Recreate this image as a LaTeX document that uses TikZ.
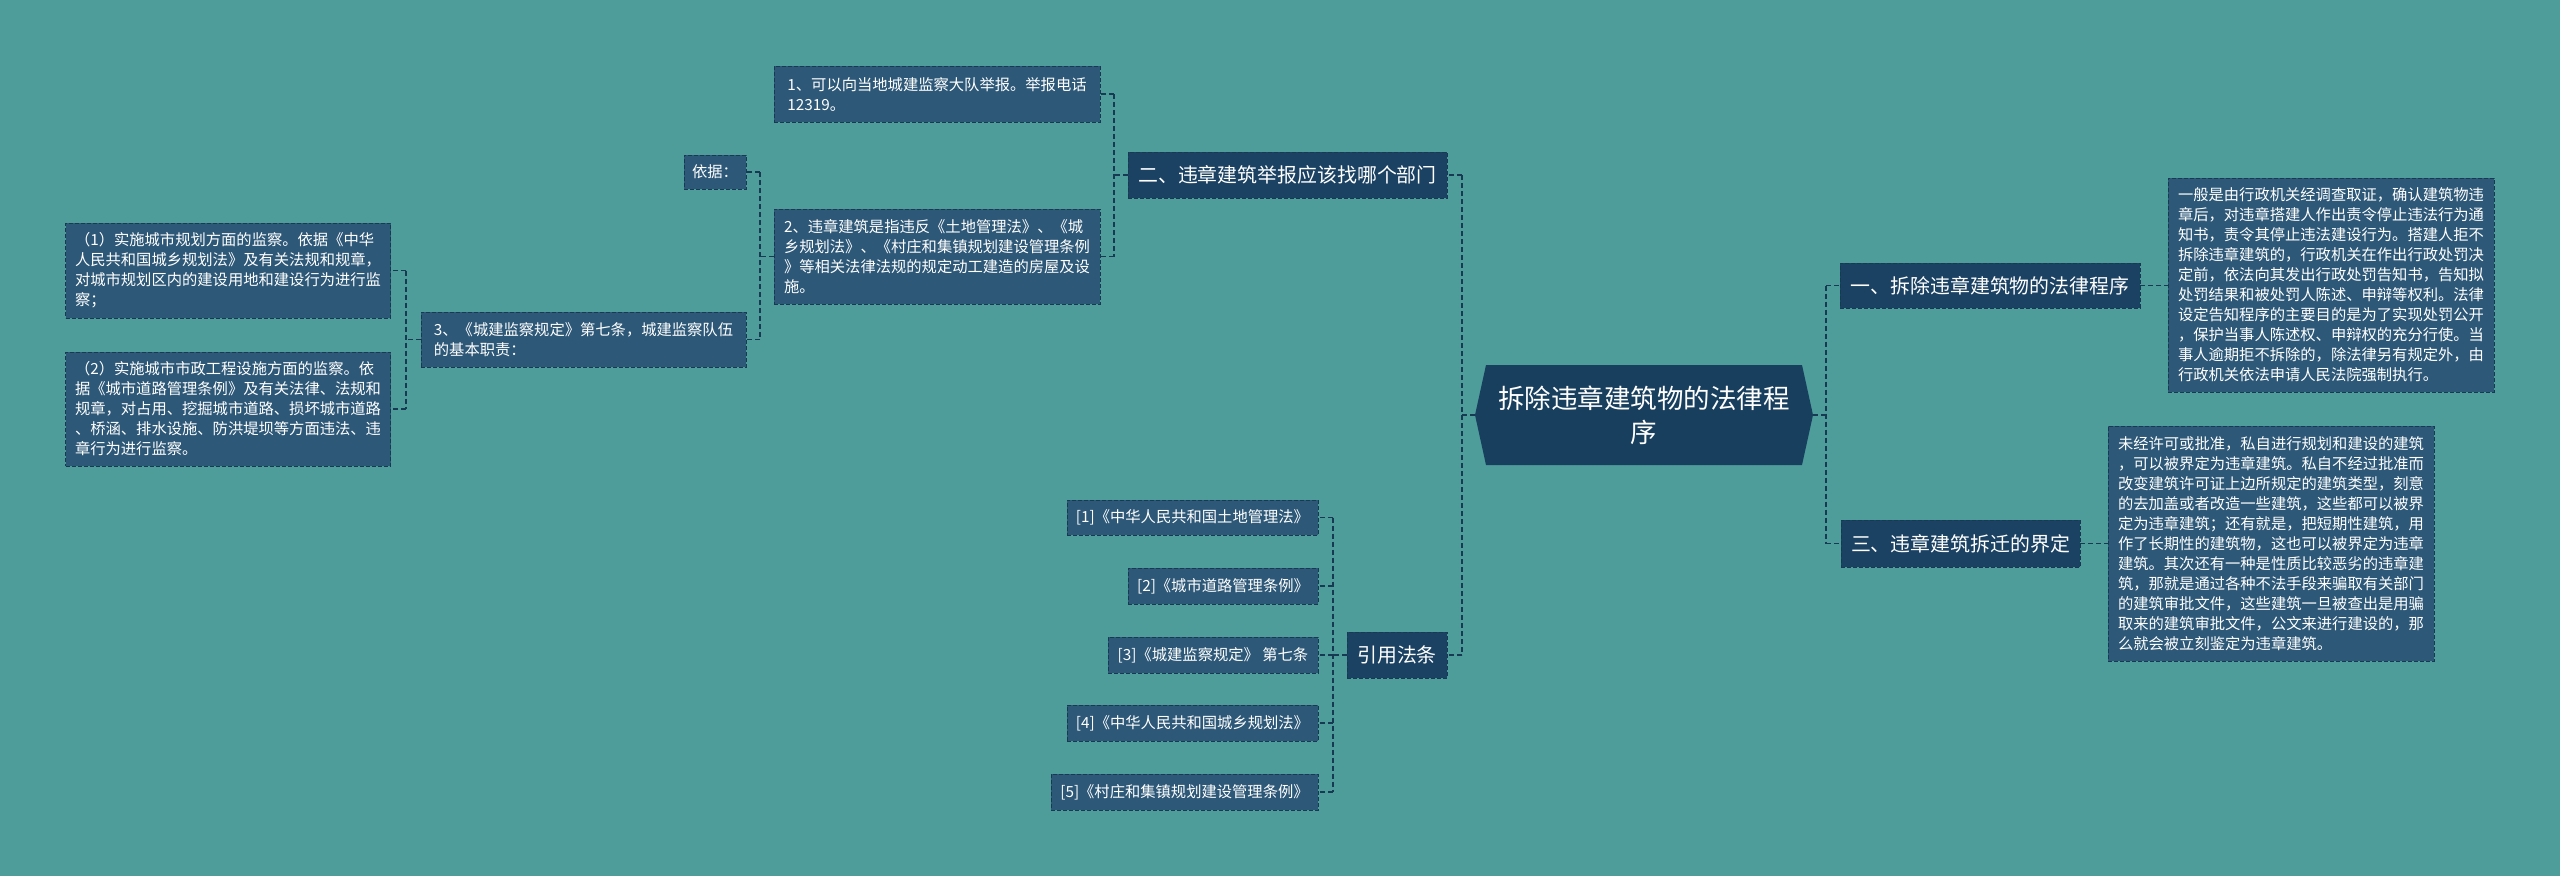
\documentclass[tikz,border=0pt]{standalone}
\usepackage{fontspec}
\newfontfamily\cjk{Noto Sans CJK SC}
\usetikzlibrary{calc}
\definecolor{bgteal}{HTML}{4E9D9B}
\definecolor{leaffill}{HTML}{2D5878}
\definecolor{branchfill}{HTML}{1B4263}
\definecolor{rootfill}{HTML}{183F5E}
\definecolor{edgec}{HTML}{173A52}

\begin{document}
\begin{tikzpicture}[x=1pt, y=-1pt,
		leaf/.style={fill=leaffill, draw=edgec, dash pattern=on 4pt off 2pt, line width=0.9pt, text=white, inner sep=0pt, align=left, font=\cjk\fontsize{15.3}{20}\selectfont},
		branch/.style={fill=branchfill, draw=edgec, dash pattern=on 4pt off 2pt, line width=0.9pt, text=white, inner sep=0pt, font=\cjk\fontsize{19.9}{24}\selectfont},
		link/.style={draw=edgec, line width=1.5pt, dash pattern=on 5pt off 3pt}]
		\fill[bgteal] (0,0) rectangle (2560,876);

		\fill[rootfill] (1475,415) -- (1486,365) -- (1802,365) -- (1813,415) -- (1802,465) -- (1486,465) -- cycle;
		\node[text=white, align=center, minimum width=338pt, minimum height=100pt, inner sep=0pt, font=\cjk\fontsize{26.5}{34}\selectfont] (root) at (1644,415) {拆除违章建筑物的法律程\\序};

		\node[branch, minimum width=319pt, minimum height=46pt] (n2) at (1287.5,175) {二、违章建筑举报应该找哪个部门};
		\node[leaf, minimum width=326pt, minimum height=56pt] (n2a) at (937,94) {1、可以向当地城建监察大队举报。举报电话\\12319。};
		\node[leaf, minimum width=326pt, minimum height=95pt] (n2b) at (937,256.5) {2、违章建筑是指违反《土地管理法》、《城\\乡规划法》、《村庄和集镇规划建设管理条例\\》等相关法律法规的规定动工建造的房屋及设\\施。};
		\node[leaf, minimum width=62pt, minimum height=34pt] (yj) at (715,172) {依据：};
		\node[leaf, minimum width=325pt, minimum height=55pt] (n3) at (583.5,339.5) {3、《城建监察规定》第七条，城建监察队伍\\的基本职责：};
		\node[leaf, minimum width=325pt, minimum height=95pt] (d1) at (228,270.5) {（1）实施城市规划方面的监察。依据《中华\\人民共和国城乡规划法》及有关法规和规章，\\对城市规划区内的建设用地和建设行为进行监\\察；};
		\node[leaf, minimum width=325pt, minimum height=114pt] (d2) at (228,409) {（2）实施城市市政工程设施方面的监察。依\\据《城市道路管理条例》及有关法律、法规和\\规章，对占用、挖掘城市道路、损坏城市道路\\、桥涵、排水设施、防洪堤坝等方面违法、违\\章行为进行监察。};

		\node[branch, minimum width=100pt, minimum height=46pt] (cite) at (1397,655) {引用法条};
		\node[leaf, minimum width=251pt, minimum height=35pt] (c1) at (1192.5,517.5) {[1]《中华人民共和国土地管理法》};
		\node[leaf, minimum width=190pt, minimum height=36pt] (c2) at (1223,586) {[2]《城市道路管理条例》};
		\node[leaf, minimum width=210pt, minimum height=36pt] (c3) at (1213,655) {[3]《城建监察规定》 第七条};
		\node[leaf, minimum width=251pt, minimum height=36pt] (c4) at (1192.5,723) {[4]《中华人民共和国城乡规划法》};
		\node[leaf, minimum width=267pt, minimum height=36pt] (c5) at (1184.5,792) {[5]《村庄和集镇规划建设管理条例》};

		\node[branch, minimum width=300pt, minimum height=45pt] (n1) at (1990,285.5) {一、拆除违章建筑物的法律程序};
		\node[leaf, minimum width=326pt, minimum height=214pt] (t1) at (2331,285) {一般是由行政机关经调查取证，确认建筑物违\\章后，对违章搭建人作出责令停止违法行为通\\知书，责令其停止违法建设行为。搭建人拒不\\拆除违章建筑的，行政机关在作出行政处罚决\\定前，依法向其发出行政处罚告知书，告知拟\\处罚结果和被处罚人陈述、申辩等权利。法律\\设定告知程序的主要目的是为了实现处罚公开\\，保护当事人陈述权、申辩权的充分行使。当\\事人逾期拒不拆除的，除法律另有规定外，由\\行政机关依法申请人民法院强制执行。};
		\node[branch, minimum width=239pt, minimum height=47pt] (n3r) at (1960.5,543.5) {三、违章建筑拆迁的界定};
		\node[leaf, minimum width=326pt, minimum height=235pt] (t3) at (2271,543.5) {未经许可或批准，私自进行规划和建设的建筑\\，可以被界定为违章建筑。私自不经过批准而\\改变建筑许可证上边所规定的建筑类型，刻意\\的去加盖或者改造一些建筑，这些都可以被界\\定为违章建筑；还有就是，把短期性建筑，用\\作了长期性的建筑物，这也可以被界定为违章\\建筑。其次还有一种是性质比较恶劣的违章建\\筑，那就是通过各种不法手段来骗取有关部门\\的建筑审批文件，这些建筑一旦被查出是用骗\\取来的建筑审批文件，公文来进行建设的，那\\么就会被立刻鉴定为违章建筑。};

		\coordinate (sl) at (1462,415);
		\draw[link] (root.west) -- (sl);
		\draw[link] (sl |- n2.east) -- (sl |- cite.east);
		\foreach \c in {n2,cite} \draw[link] (sl |- \c.east) -- (\c.east);

		\coordinate (sr) at (1826,415);
		\draw[link] (root.east) -- (sr);
		\draw[link] (sr |- n1.west) -- (sr |- n3r.west);
		\foreach \c in {n1,n3r} \draw[link] (sr |- \c.west) -- (\c.west);
		\draw[link] (n1.east) -- (n1.east -| t1.west);
		\draw[link] (n3r.east) -- (t3.west);

		\coordinate (s2) at (1114,175);
		\draw[link] (n2.west) -- (s2);
		\draw[link] (s2 |- n2a.east) -- (s2 |- n2b.east);
		\foreach \c in {n2a,n2b} \draw[link] (s2 |- \c.east) -- (\c.east);

		\coordinate (sb) at (760,256.5);
		\draw[link] (n2b.west) -- (sb);
		\draw[link] (sb |- yj.east) -- (sb |- n3.east);
		\foreach \c in {yj,n3} \draw[link] (sb |- \c.east) -- (\c.east);

		\coordinate (s3) at (406,339.5);
		\draw[link] (n3.west) -- (s3);
		\draw[link] (s3 |- d1.east) -- (s3 |- d2.east);
		\foreach \c in {d1,d2} \draw[link] (s3 |- \c.east) -- (\c.east);

		\coordinate (sc) at (1333,655);
		\draw[link] (cite.west) -- (sc);
		\draw[link] (sc |- c1.east) -- (sc |- c5.east);
		\foreach \c in {c1,c2,c3,c4,c5} \draw[link] (sc |- \c.east) -- (\c.east);
	\end{tikzpicture}
\end{document}
